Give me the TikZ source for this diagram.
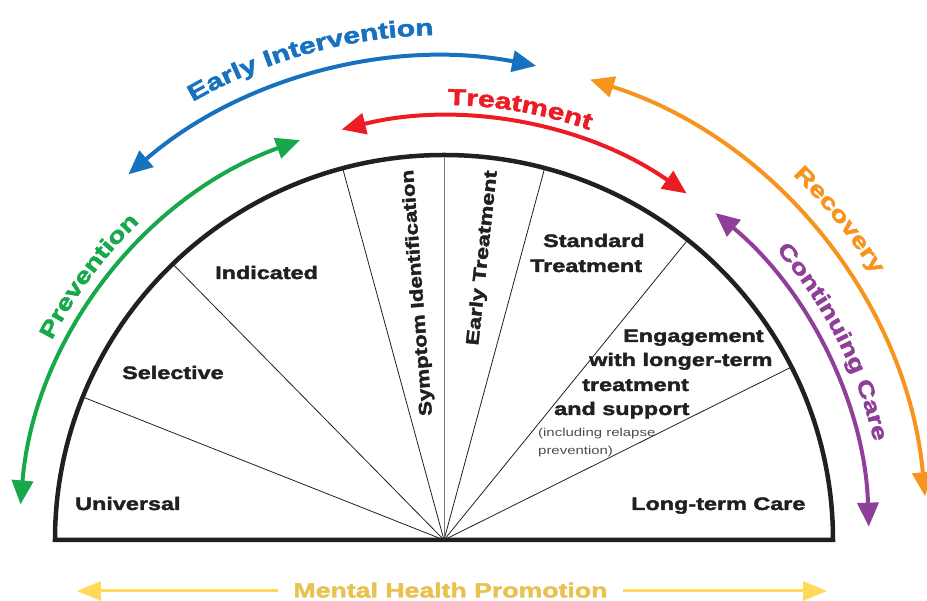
\documentclass[tikz,border=0pt]{standalone}
\usepackage{fontspec}
\usetikzlibrary{arrows.meta,decorations.text}
\newfontfamily\lab[FakeStretch=1.3,FakeBold=2.2]{Liberation Sans}
\newfontfamily\labn[FakeStretch=1.24,FakeBold=2.2]{Liberation Sans}
\newfontfamily\labs[FakeStretch=1.3]{Liberation Sans}
\definecolor{cgreen}{RGB}{22,168,74}
\definecolor{cblue}{RGB}{22,114,190}
\definecolor{cred}{RGB}{236,28,36}
\definecolor{corange}{RGB}{247,148,29}
\definecolor{cpurple}{RGB}{142,63,152}
\definecolor{cyline}{RGB}{255,217,90}
\definecolor{cytext}{RGB}{232,194,80}
\definecolor{cink}{RGB}{35,31,32}
\newcommand\fEI{\lab\bfseries\fontsize{23}{23}\selectfont\color{cblue}}
\newcommand\fTR{\lab\bfseries\fontsize{23}{23}\selectfont\color{cred}}
\newcommand\fPR{\lab\bfseries\fontsize{22}{22}\selectfont\color{cgreen}}
\newcommand\fRE{\lab\bfseries\fontsize{22}{22}\selectfont\color{corange}}
\newcommand\fCC{\lab\bfseries\fontsize{21.5}{21.5}\selectfont\color{cpurple}}
\tikzset{
  lbl/.style={font=\lab\bfseries\fontsize{18}{20}\selectfont, inner sep=0pt, text=cink},
  lbln/.style={font=\labn\bfseries\fontsize{18}{20}\selectfont, inner sep=0pt, text=cink},
  small/.style={font=\labs\fontsize{11.5}{13}\selectfont, inner sep=0pt, text=black!70},
  band/.style={line width=4pt, {Triangle[length=24pt,width=21pt]}-{Triangle[length=24pt,width=21pt]}},
  ray/.style={line width=0.8pt, cink},
  ybar/.style={line width=3pt, cyline, -{Triangle[length=24pt,width=19pt]}}
}
\begin{document}
\begin{tikzpicture}[x=1pt,y=1pt]
\useasboundingbox (-444,-61) rectangle (483,540);
\coordinate (O) at (0,0);
% rays
\foreach \a in {158.2,134.2,105.1,75,51.2,26.7}
  \draw[ray] (O) -- ({389*cos(\a)},{385*sin(\a)});
\draw[ray, black!55] (O) -- (0,385);
% semicircle
\draw[line width=4.5pt, cink] (-389,0) arc[start angle=180,end angle=0,x radius=389pt,y radius=385pt] -- cycle;
% coloured bands
\draw[band, cgreen] (175.2:425pt) arc[start angle=175.2,end angle=109.8,radius=425pt];
\draw[band, cblue] (130.8:483pt) arc[start angle=130.8,end angle=79,radius=483pt];
\draw[band, cred] (104:423pt) arc[start angle=104,end angle=55,radius=423pt];
\draw[band, corange] (72.4:483pt) arc[start angle=72.4,end angle=5.2,radius=483pt];
\draw[band, cpurple] (50.3:425pt) arc[start angle=50.3,end angle=1.8,radius=425pt];
% band labels
\path[decorate, decoration={text along path, text align=center, text={|\fEI|Early Intervention}}]
  (135.5:505pt) arc[start angle=135.5,end angle=75.5,radius=505pt];
\path[decorate, decoration={text along path, text align=center, text={|\fTR|Treatment}}]
  (110:435pt) arc[start angle=110,end angle=50,radius=435pt];
\path[decorate, decoration={text along path, text align=center, text={|\fPR|Prevention}}]
  (173.4:440pt) arc[start angle=173.4,end angle=113.4,radius=440pt];
\path[decorate, decoration={text along path, text align=center, text={|\fRE|Recovery}}]
  (69:505pt) arc[start angle=69,end angle=9,radius=505pt];
\path[decorate, decoration={text along path, text align=center, text={|\fCC|Continuing Care}}]
  (57:441pt) arc[start angle=57,end angle=-3,radius=441pt];
% sector labels
\node[lbl, anchor=base west] (uni) at (-369,30) {Universal};
\node[lbl, anchor=base west] (sel) at (-322,161) {Selective};
\node[lbl, anchor=base west] (ind) at (-229,261) {Indicated};
\node[lbln, anchor=base, rotate=94.4] (sym) at (-21.5,247.5) {Symptom Identification};
\node[lbl, anchor=base, rotate=83.9] (etr) at (43.5,281.5) {Early Treatment};
\node[lbl, anchor=base west] (std1) at (99,293) {Standard};
\node[lbl, anchor=base west] (std2) at (86,268) {Treatment};
\node[lbl, anchor=base west] (eng1) at (179,198) {Engagement};
\node[lbl, anchor=base west] (eng2) at (145,174) {with longer-term};
\node[lbl, anchor=base west] (eng3) at (138,149) {treatment};
\node[lbl, anchor=base west] (eng4) at (110,125) {and support};
\node[small, anchor=base west] (eng5) at (94,103) {(including relapse};
\node[small, anchor=base west] (eng6) at (94,85) {prevention)};
\node[lbl, anchor=base west] (ltc) at (187,30) {Long-term Care};
% mental health promotion
\node[lbl, font=\lab\bfseries\fontsize{20.5}{22}\selectfont, text=cytext, anchor=base] (mhp) at (6.5,-57.5) {Mental Health Promotion};
\coordinate (yl0) at (-166,-51);
\coordinate (yl1) at (-367,-51);
\coordinate (yr0) at (179,-51);
\coordinate (yr1) at (383,-51);
\draw[ybar] (yl0) -- (yl1);
\draw[ybar] (yr0) -- (yr1);
\end{tikzpicture}
\end{document}
